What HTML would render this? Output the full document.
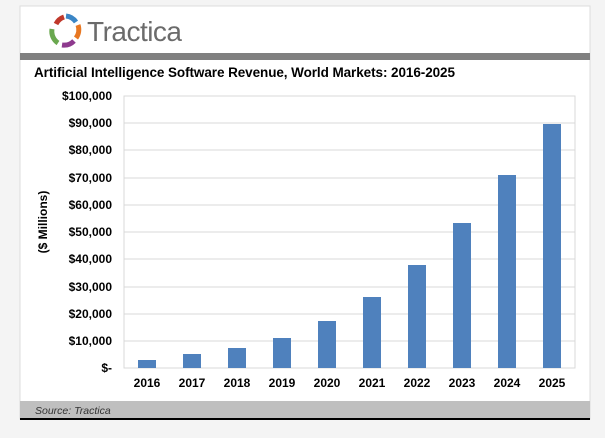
<!DOCTYPE html>
<html><head><style>
body{margin:0;background:#f4f4f4;width:605px;height:433px;overflow:hidden;font-family:"Liberation Sans",Arial,sans-serif}
</style></head><body>
<svg width="605" height="433" xmlns="http://www.w3.org/2000/svg" font-family="Liberation Sans, Arial, sans-serif">
<rect x="20" y="6" width="570" height="413" fill="#fff" stroke="#ddd"/>
<g stroke-width="5" fill="none" stroke-linecap="butt">
<path d="M56 24 A14 14 0 0 1 64 17" stroke="#c0392b"/>
<path d="M66 16 A14 14 0 0 1 76 22" stroke="#3b86c6"/>
<path d="M78 25 A14 14 0 0 1 76 38" stroke="#e87722"/>
<path d="M74 41 A14 14 0 0 1 62 45" stroke="#8e3a8e"/>
<path d="M58 43 A14 14 0 0 1 52 29" stroke="#6aa84f"/>
</g>
<text x="87" y="41" font-size="28" fill="#6b6b6b" textLength="95">Tractica</text>
<rect x="20" y="53" width="570" height="7" fill="#808080"/>
<text x="34" y="77" font-size="13.5" font-weight="bold" fill="#000" textLength="421">Artificial Intelligence Software Revenue, World Markets: 2016-2025</text>
<rect x="124" y="96" width="451" height="272" fill="none" stroke="#d9d9d9"/>
<g stroke="#d9d9d9">
<line x1="124" x2="575" y1="341" y2="341"/><line x1="124" x2="575" y1="314" y2="314"/><line x1="124" x2="575" y1="287" y2="287"/><line x1="124" x2="575" y1="259" y2="259"/><line x1="124" x2="575" y1="232" y2="232"/><line x1="124" x2="575" y1="205" y2="205"/><line x1="124" x2="575" y1="178" y2="178"/><line x1="124" x2="575" y1="150" y2="150"/><line x1="124" x2="575" y1="123" y2="123"/>
</g>
<g font-size="12" font-weight="bold" text-anchor="end" fill="#000">
<text x="112" y="100">$100,000</text><text x="112" y="127">$90,000</text><text x="112" y="154">$80,000</text><text x="112" y="182">$70,000</text><text x="112" y="209">$60,000</text><text x="112" y="236">$50,000</text><text x="112" y="263">$40,000</text><text x="112" y="291">$30,000</text><text x="112" y="318">$20,000</text><text x="112" y="345">$10,000</text><text x="112" y="372">$-</text>
</g>
<text transform="translate(47,222) rotate(-90)" font-size="12" font-weight="bold" text-anchor="middle">($ Millions)</text>
<g fill="#4f81bd">
<rect x="138" y="360" width="18" height="8"/>
<rect x="183" y="354" width="18" height="14"/>
<rect x="228" y="348" width="18" height="20"/>
<rect x="273" y="338" width="18" height="30"/>
<rect x="318" y="321" width="18" height="47"/>
<rect x="363" y="297" width="18" height="71"/>
<rect x="408" y="265" width="18" height="103"/>
<rect x="453" y="223" width="18" height="145"/>
<rect x="498" y="175" width="18" height="193"/>
<rect x="543" y="124" width="18" height="244"/>
</g>
<g font-size="12" font-weight="bold" text-anchor="middle">
<text x="147" y="387">2016</text><text x="192" y="387">2017</text><text x="237" y="387">2018</text><text x="282" y="387">2019</text><text x="327" y="387">2020</text><text x="372" y="387">2021</text><text x="417" y="387">2022</text><text x="462" y="387">2023</text><text x="507" y="387">2024</text><text x="552" y="387">2025</text>
</g>
<rect x="20" y="401" width="570" height="17" fill="#bfbfbf"/>
<rect x="20" y="418" width="570" height="2" fill="#000"/>
<text x="35" y="414" font-size="10.5" font-style="italic" fill="#333">Source: Tractica</text>
</svg>
</body></html>
